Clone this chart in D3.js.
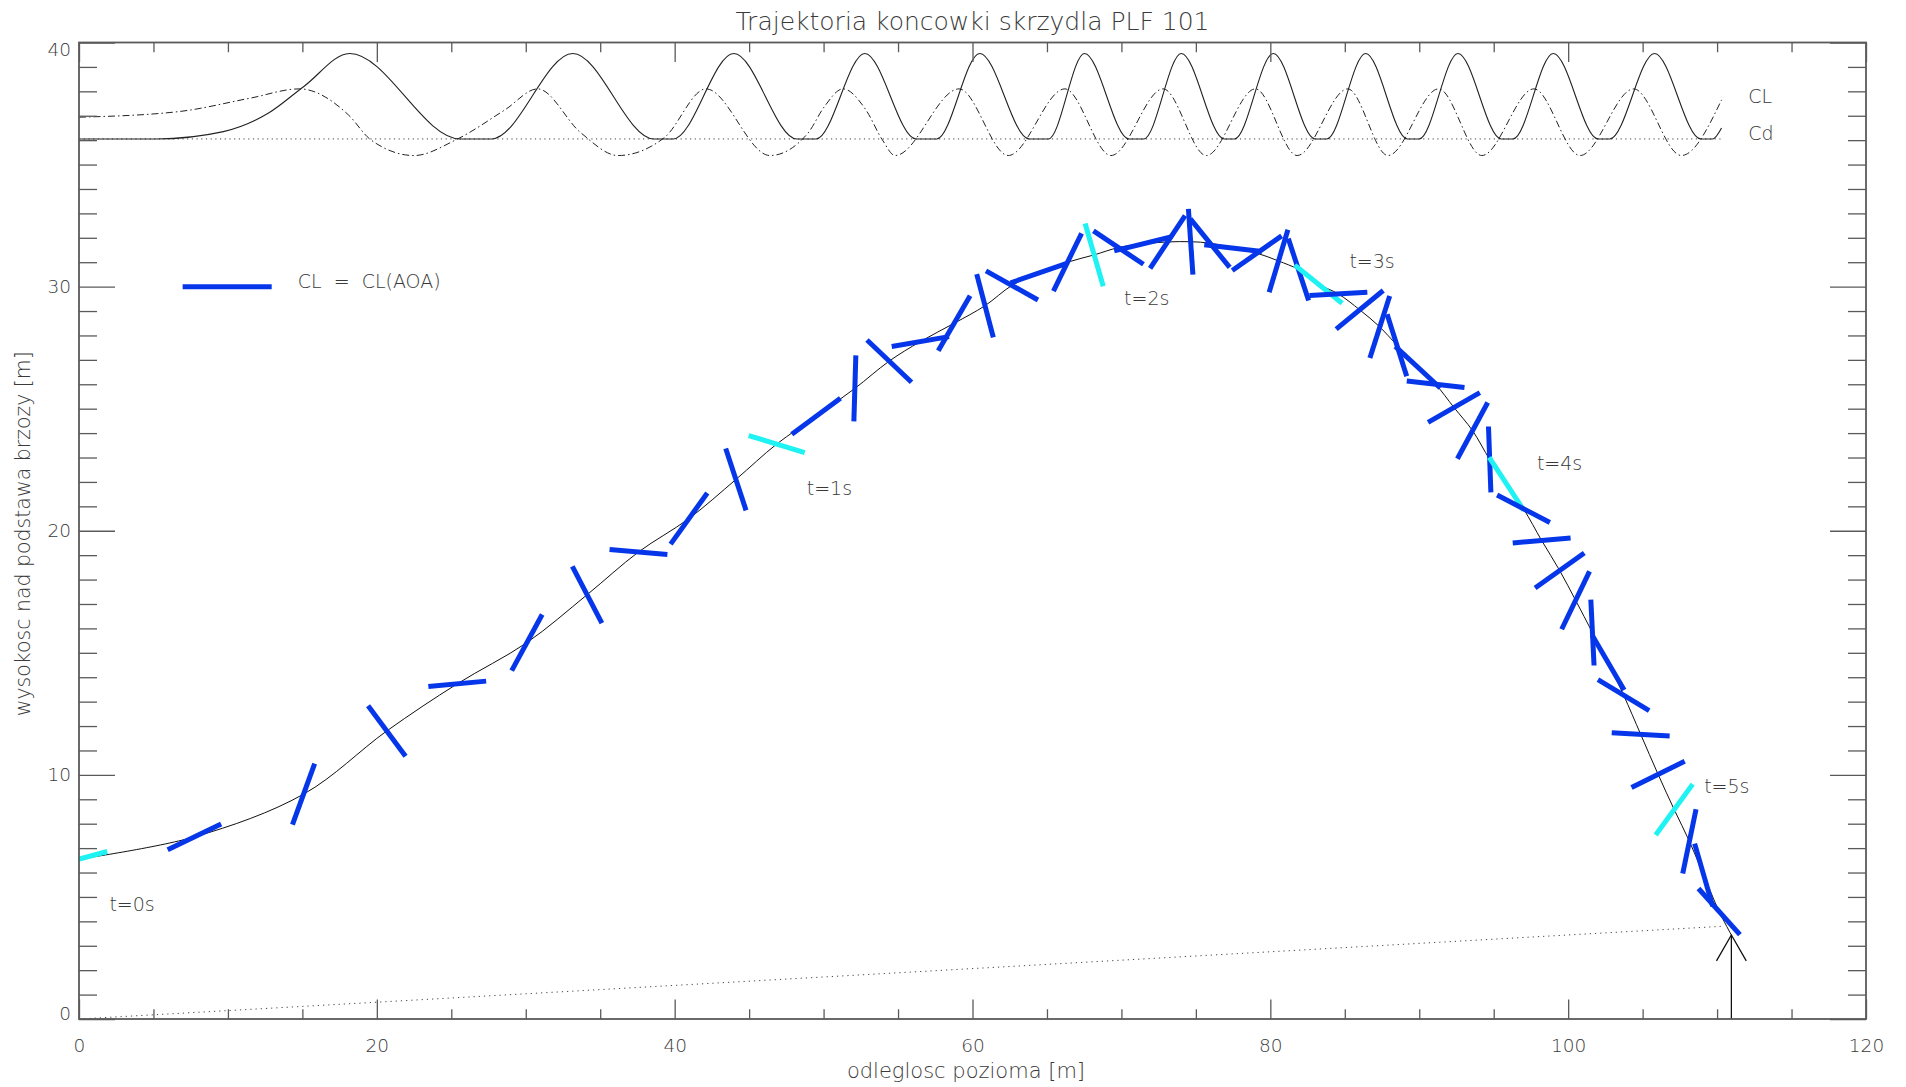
<!DOCTYPE html>
<html><head><meta charset="utf-8">
<script src="https://cdn.jsdelivr.net/npm/d3@7"></script>
<style>
html,body{margin:0;padding:0;background:#fff;}
svg{display:block;}
text{font-family:"DejaVu Sans","Liberation Sans",sans-serif;font-weight:200;fill:#3a3a3a;}
</style></head><body>
<svg id="chart" width="1906" height="1087"></svg>
<script>
// ---------- data ----------
const titleText = "Trajektoria koncowki skrzydla PLF 101";
const xTitle = "odleglosc pozioma [m]";
const yTitle = "wysokosc nad podstawa brzozy [m]";
const xTicksMajor = [0, 20, 40, 60, 80, 100, 120];
const yTicksMajor = [0, 10, 20, 30, 40];

// wing-tip positions every 0.1 s (t = 0.0 ... 5.3 s)
const tipX = [0, 7.75, 15.08, 20.67, 25.4, 30.08, 34.12, 37.57, 40.96, 44.11,
  46.85, 49.5, 52.1, 54.41, 56.5, 58.77, 60.84, 62.65, 64.42, 66.38,
  68.17, 69.8, 71.42, 73.1, 74.65, 75.95, 77.5, 79.1, 80.55, 81.89,
  83.23, 84.57, 86.0, 87.35, 88.5, 89.9, 91.1, 92.33, 93.58, 94.73,
  95.86, 97.0, 98.22, 99.43, 100.5, 101.63, 102.68, 103.72, 104.87, 106.04,
  107.12, 108.14, 109.1, 110.14];
const tipY = [6.55, 7.46, 9.21, 11.8, 13.73, 15.42, 17.38, 19.13, 20.5, 22.1,
  23.55, 24.69, 25.83, 26.95, 27.75, 28.5, 29.22, 30.05, 30.55, 31.0,
  31.3, 31.6, 31.75, 31.83, 31.84, 31.78, 31.58, 31.37, 31.05, 30.7,
  30.1, 29.7, 29.05, 28.35, 27.6, 26.7, 26.0, 25.05, 24.1, 22.92,
  21.92, 20.9, 19.6, 18.37, 17.15, 15.83, 14.6, 13.27, 11.66, 10.02,
  8.58, 7.28, 5.9, 4.4];
// chord inclination as drawn (degrees, counter-clockwise)
const chordAngle = [15, 25.6, 70, -53.4, 5.3, 61.5, -62.5, -4.9, 54.3, -71.8,
  -17, 36.5, 88.3, -43.5, 9.8, 60, -75.3, -29.3, 19.2, 64,
  -73.9, -33.7, 13.7, 56.4, 93.9, -50.9, -6.7, 35, 73.3, -71.8,
  -38.9, 3.2, 39.4, 72.3, -72.5, -42.8, -6.5, 29.8, 61.7, 92.1,
  -56.8, -27.5, 4.9, 35.4, 64.3, 92.8, -59.7, -31.2, -3.2, 26.3,
  53.9, 78.3, -73.9, -48.1];
// full-second samples are highlighted
const fullSecond = [true,false,false,false,false,false,false,false,false,false,
  true,false,false,false,false,false,false,false,false,false,
  true,false,false,false,false,false,false,false,false,false,
  true,false,false,false,false,false,false,false,false,false,
  true,false,false,false,false,false,false,false,false,false,
  true,false,false,false];
const endX = 110.96, endY = 3.44;

const timeLabels = ["t=0s", "t=1s", "t=2s", "t=3s", "t=4s", "t=5s"];
const timeLabelX = [2.04, 48.87, 70.18, 85.31, 97.9, 109.13];
const timeLabelY = [4.44, 21.47, 29.25, 30.75, 22.49, 9.25];

// CL and Cd traces drawn above the trajectory
const clX = [0, 5.2, 9.7, 12.7, 15.1, 18.17, 25.6, 27.7, 33.16, 38.6, 39.9, 43.97, 48.2, 49.5,
  52.77, 56.2, 57.6, 60.49, 63.8, 65.1, 67.52, 70.5, 71.5, 74.02, 76.9, 77.6, 80.2, 83.0, 83.8,
  86.4, 89.2, 90.0, 92.6, 95.5, 96.3, 99.0, 102.0, 102.8, 105.8, 108.9, 109.7, 110.3];
const clY = [36.05, 36.05, 36.35, 37.1, 38.2, 39.55, 36.05, 36.05, 39.55, 36.05, 36.05, 39.55, 36.05, 36.05,
  39.55, 36.05, 36.05, 39.55, 36.05, 36.05, 39.55, 36.05, 36.05, 39.55, 36.05, 36.05, 39.55, 36.05, 36.05,
  39.55, 36.05, 36.05, 39.55, 36.05, 36.05, 39.55, 36.05, 36.05, 39.55, 36.05, 36.05, 36.5];
const cdX = [0, 6.7, 11.5, 14.8, 18.1, 19.6, 22.5, 25.3, 28.6, 30.8, 33.7, 36.2, 39.3, 42.1, 46.4,
  48.94, 50.05, 51.3, 52.84, 53.95, 54.8, 59.1, 62.4, 66.2, 69.3, 72.8, 75.7, 79.0, 81.8,
  85.2, 87.9, 91.3, 94.2, 97.7, 100.8, 104.4, 107.6, 110.3];
const cdY = [36.94, 37.17, 37.72, 38.1, 37.03, 36.01, 35.37, 36.01, 37.24, 38.1, 36.3, 35.37, 36.1, 38.1, 35.37,
  36.28, 37.37, 38.1, 37.24, 36.01, 35.37, 38.1, 35.37, 38.1, 35.37, 38.1, 35.37, 38.1, 35.37,
  38.1, 35.37, 38.1, 35.37, 38.1, 35.37, 38.1, 35.37, 37.65];
const coefBase = 36.05, coefBaseEndX = 110.3;
const coefLabels = ["CL", "Cd"];
const coefLabelX = [112.1, 112.1];
const coefLabelY = [37.51, 36.01];

// ground reference line and arrow
const groundX = [0, 110.4], groundY = [0, 3.8];
const arrowX = 110.96, arrowTipY = 3.44, arrowHeadY = 2.38, arrowHeadDX = 1.0;

// legend
const legendText = "CL = CL(AOA)";
const legendLineX = [6.96, 12.94], legendLineY = 30, legendTextX = 14.69, legendTextY = 29.96;

// ---------- drawing ----------
const svg = d3.select("#chart");
const x = d3.scaleLinear().domain([0, 120]).range([79, 1866]);
const y = d3.scaleLinear().domain([0, 40]).range([1019, 42.5]);
const axisColor = "#5a5a5a", blue = "#0636ea", cyan = "#1ef2f2";

svg.append("defs").append("clipPath").attr("id", "plotclip")
  .append("rect").attr("x", x(0)).attr("y", y(40)).attr("width", x(120) - x(0)).attr("height", y(0) - y(40));

const plot = svg.append("g").attr("clip-path", "url(#plotclip)");

// dotted baseline of coefficient traces
plot.append("line").attr("x1", x(0)).attr("x2", x(coefBaseEndX)).attr("y1", y(coefBase)).attr("y2", y(coefBase))
  .attr("stroke", "#444").attr("stroke-width", 1).attr("stroke-dasharray", "1.2,3.5");

const lineMono = d3.line().curve(d3.curveMonotoneX);
plot.append("path").attr("d", lineMono(cdX.map((v, i) => [x(v), y(cdY[i])])))
  .attr("fill", "none").attr("stroke", "#222").attr("stroke-width", 1).attr("stroke-dasharray", "7,3,1.5,3");
plot.append("path").attr("d", lineMono(clX.map((v, i) => [x(v), y(clY[i])])))
  .attr("fill", "none").attr("stroke", "#222").attr("stroke-width", 1.1);

// ground dotted line
plot.append("line").attr("x1", x(groundX[0])).attr("y1", y(groundY[0])).attr("x2", x(groundX[1])).attr("y2", y(groundY[1]))
  .attr("stroke", "#444").attr("stroke-width", 1).attr("stroke-dasharray", "1.2,4");

// trajectory
const trajPts = tipX.map((v, i) => [x(v), y(tipY[i])]).concat([[x(endX), y(endY)]]);
plot.append("path").attr("d", d3.line().curve(d3.curveCatmullRom.alpha(0.5))(trajPts))
  .attr("fill", "none").attr("stroke", "#111").attr("stroke-width", 1);

// chord segments
const rx = 29, ry = 33;
const segs = tipX.map((v, i) => {
  const th = chordAngle[i] * Math.PI / 180;
  const r = 1 / Math.sqrt((Math.cos(th) / rx) ** 2 + (Math.sin(th) / ry) ** 2);
  const cx = x(v), cy = y(tipY[i]);
  return {x1: cx - r * Math.cos(th), y1: cy + r * Math.sin(th), x2: cx + r * Math.cos(th), y2: cy - r * Math.sin(th), hi: fullSecond[i]};
});
plot.append("g").selectAll("line").data(segs).join("line")
  .attr("x1", d => d.x1).attr("y1", d => d.y1).attr("x2", d => d.x2).attr("y2", d => d.y2)
  .attr("stroke", d => d.hi ? cyan : blue).attr("stroke-width", 5);

// arrow
const ag = plot.append("g").attr("stroke", "#111").attr("stroke-width", 1.3).attr("fill", "none");
ag.append("line").attr("x1", x(arrowX)).attr("x2", x(arrowX)).attr("y1", y(0)).attr("y2", y(arrowTipY));
ag.append("polyline").attr("points", [[x(arrowX - arrowHeadDX), y(arrowHeadY)], [x(arrowX), y(arrowTipY)], [x(arrowX + arrowHeadDX), y(arrowHeadY)]].map(p => p.join(",")).join(" "));

// time labels
svg.append("g").selectAll("text").data(timeLabels).join("text")
  .attr("x", (d, i) => x(timeLabelX[i])).attr("y", (d, i) => y(timeLabelY[i]))
  .attr("font-size", 19).text(d => d);

// coefficient labels
svg.append("g").selectAll("text").data(coefLabels).join("text")
  .attr("x", (d, i) => x(coefLabelX[i])).attr("y", (d, i) => y(coefLabelY[i]))
  .attr("font-size", 19).text(d => d);

// legend
svg.append("line").attr("x1", x(legendLineX[0])).attr("x2", x(legendLineX[1])).attr("y1", y(legendLineY)).attr("y2", y(legendLineY))
  .attr("stroke", blue).attr("stroke-width", 5);
svg.append("text").attr("x", x(legendTextX)).attr("y", y(legendTextY)).attr("font-size", 19)
  .attr("xml:space", "preserve").style("white-space", "pre").text(legendText.replace(/ = /, "  =  "));

// axes
function styleAxis(g) {
  g.select(".domain").remove();
  g.selectAll(".tick line").attr("stroke", axisColor).attr("stroke-width", 1.3);
  g.selectAll(".tick text").attr("fill", "#3a3a3a").attr("font-size", 18.5)
    .attr("font-family", '"DejaVu Sans","Liberation Sans",sans-serif').attr("font-weight", 200);
}
const xMinor = d3.range(0, 121, 5).filter(v => v % 20 !== 0);
const yMinor = d3.range(0, 41, 1).filter(v => v % 10 !== 0);
const xLen = 19.5, yLen = 36;

svg.append("g").attr("transform", `translate(0,${y(0)})`)
  .call(d3.axisBottom(x).tickValues(xTicksMajor).tickSizeInner(-xLen).tickSizeOuter(0).tickPadding(20).tickFormat(d3.format("d"))).call(styleAxis);
svg.append("g").attr("transform", `translate(0,${y(0)})`)
  .call(d3.axisBottom(x).tickValues(xMinor).tickSizeInner(-xLen / 2).tickSizeOuter(0).tickFormat("")).call(styleAxis);
svg.append("g").attr("transform", `translate(0,${y(40)})`)
  .call(d3.axisTop(x).tickValues(xTicksMajor).tickSizeInner(-xLen).tickSizeOuter(0).tickFormat("")).call(styleAxis);
svg.append("g").attr("transform", `translate(0,${y(40)})`)
  .call(d3.axisTop(x).tickValues(xMinor).tickSizeInner(-xLen / 2).tickSizeOuter(0).tickFormat("")).call(styleAxis);

const yAx = svg.append("g").attr("transform", `translate(${x(0)},0)`)
  .call(d3.axisLeft(y).tickValues(yTicksMajor).tickSizeInner(-yLen).tickSizeOuter(0).tickPadding(8).tickFormat(d3.format("d"))).call(styleAxis);
// end labels sit inside the axis span, as in the original
yAx.selectAll(".tick text").attr("dy", d => d === 40 ? "0.72em" : (d === 0 ? "0.05em" : "0.32em"));
svg.append("g").attr("transform", `translate(${x(0)},0)`)
  .call(d3.axisLeft(y).tickValues(yMinor).tickSizeInner(-yLen / 2).tickSizeOuter(0).tickFormat("")).call(styleAxis);
svg.append("g").attr("transform", `translate(${x(120)},0)`)
  .call(d3.axisRight(y).tickValues(yTicksMajor).tickSizeInner(-yLen).tickSizeOuter(0).tickFormat("")).call(styleAxis);
svg.append("g").attr("transform", `translate(${x(120)},0)`)
  .call(d3.axisRight(y).tickValues(yMinor).tickSizeInner(-yLen / 2).tickSizeOuter(0).tickFormat("")).call(styleAxis);

// frame
svg.append("rect").attr("x", x(0)).attr("y", y(40)).attr("width", x(120) - x(0)).attr("height", y(0) - y(40))
  .attr("fill", "none").attr("stroke", axisColor).attr("stroke-width", 1.8);

// titles
svg.append("text").attr("x", (x(0) + x(120)) / 2).attr("y", 30).attr("text-anchor", "middle")
  .attr("font-size", 25).text(titleText);
svg.append("text").attr("x", 966).attr("y", 1078).attr("text-anchor", "middle")
  .attr("font-size", 21).text(xTitle);
svg.append("text").attr("transform", `translate(30,${(y(0) + y(40)) / 2 + 3}) rotate(-90)`).attr("text-anchor", "middle")
  .attr("font-size", 20.5).text(yTitle);
</script>
</body></html>
